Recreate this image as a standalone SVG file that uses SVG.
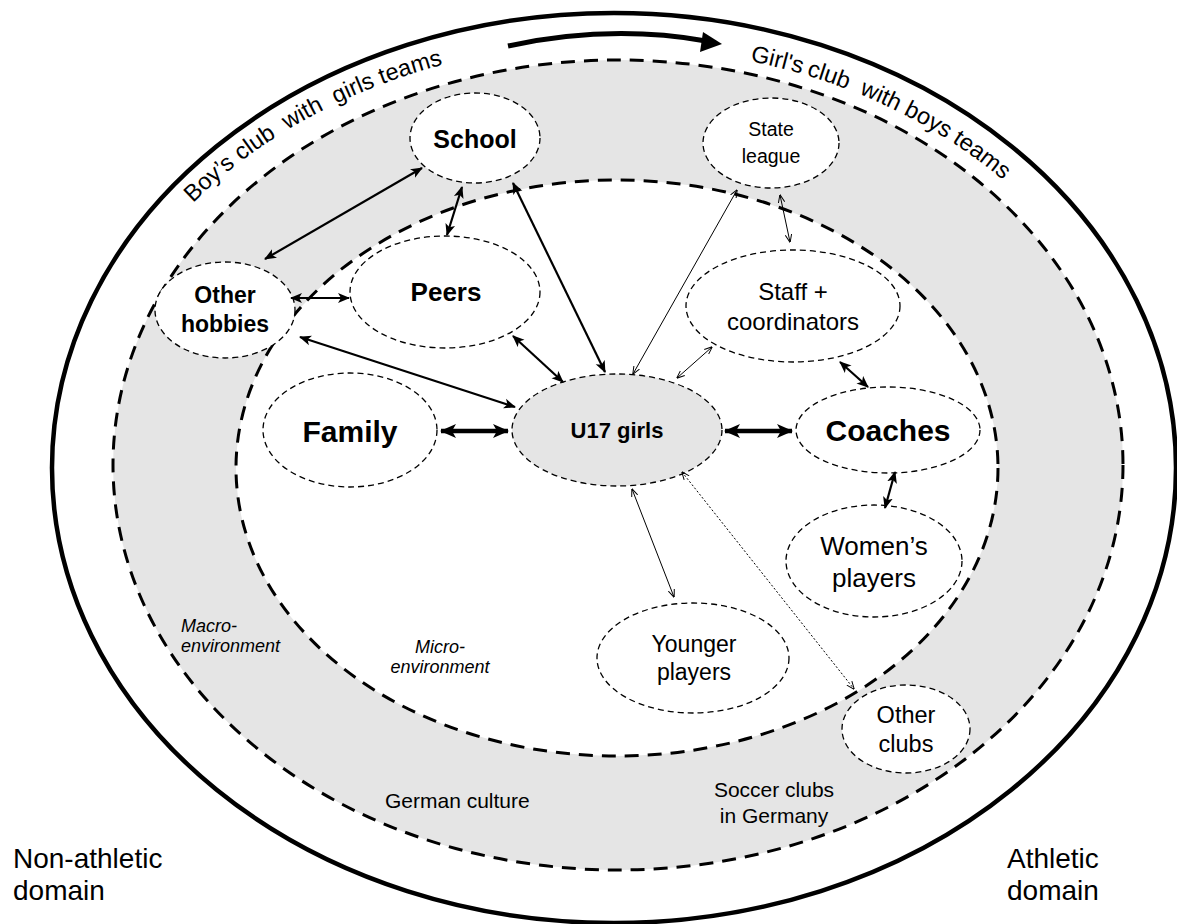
<svg xmlns="http://www.w3.org/2000/svg" width="1177" height="924" viewBox="0 0 1177 924">
  <style>
    text { font-family: "Liberation Sans", Arial, Helvetica, sans-serif; fill: #000; }
    .b { font-weight: bold; }
    .it { font-style: italic; }
    .mid { text-anchor: middle; }
    .arc { font-size: 23.5px; }
    .node { fill: #fff; stroke: #000; stroke-width: 1.3; stroke-dasharray: 6 4; }
    .core { fill: #e5e5e5; stroke: #000; stroke-width: 1.3; stroke-dasharray: 6 4; }
    .ring { stroke: #000; stroke-width: 3; stroke-dasharray: 14 9; }
    .thick { stroke: #000; stroke-width: 4.5; fill: none; marker-start: url(#hBig); marker-end: url(#hBig); }
    .med { stroke: #000; stroke-width: 2.2; fill: none; marker-start: url(#hMed); marker-end: url(#hMed); }
    .thin { stroke: #000; stroke-width: 1; fill: none; marker-start: url(#hSmall); marker-end: url(#hSmall); }
    .dot { stroke: #000; stroke-width: 1; stroke-dasharray: 2 2; fill: none; marker-start: url(#hSmall); marker-end: url(#hSmall); }
  </style>
  <defs>
    <marker id="hBig" markerUnits="userSpaceOnUse" markerWidth="16" markerHeight="16" viewBox="0 0 16 16" refX="15" refY="8" orient="auto-start-reverse">
      <path d="M0 1 L16 8 L0 15 L4 8 Z" fill="#000"/>
    </marker>
    <marker id="hMed" markerUnits="userSpaceOnUse" markerWidth="12" markerHeight="12" viewBox="0 0 12 12" refX="11" refY="6" orient="auto-start-reverse">
      <path d="M0 1 L12 6 L0 11 L3 6 Z" fill="#000"/>
    </marker>
    <marker id="hSmall" markerUnits="userSpaceOnUse" markerWidth="8" markerHeight="8" viewBox="0 0 8 8" refX="7.5" refY="4" orient="auto-start-reverse">
      <path d="M0 0.8 L8 4 L0 7.2" fill="none" stroke="#000" stroke-width="1"/>
    </marker>
    <path id="arcLeft" d="M 193 203 A 540 425 0 0 1 1039 203"/>
    <path id="arcRight" d="M 750 61 A 530 420 0 0 1 1100 295"/>
  </defs>

  <rect width="1177" height="924" fill="#fff"/>

  <!-- environment rings -->
  <g id="rings">
    <ellipse cx="614" cy="468" rx="562" ry="455" fill="#fff" stroke="#000" stroke-width="4.5"/>
    <ellipse class="ring" cx="618" cy="465" rx="505" ry="405" fill="#e5e5e5"/>
    <ellipse class="ring" cx="617" cy="468" rx="381" ry="288" fill="#fff"/>
  </g>

  <!-- direction arrow between the club types, with the curved captions -->
  <g id="club-direction">
    <path d="M 508 46 Q 610 24 706 41" fill="none" stroke="#000" stroke-width="5"/>
    <polygon points="722,44 703,32 700,52" fill="#000"/>
    <text class="arc"><textPath href="#arcLeft" startOffset="0">Boy’s</textPath></text>
    <text class="arc"><textPath href="#arcLeft" startOffset="64">club</textPath></text>
    <text class="arc"><textPath href="#arcLeft" startOffset="120">with</textPath></text>
    <text class="arc"><textPath href="#arcLeft" startOffset="175">girls</textPath></text>
    <text class="arc"><textPath href="#arcLeft" startOffset="225">teams</textPath></text>
    <text class="arc"><textPath href="#arcRight" startOffset="0">Girl's</textPath></text>
    <text class="arc"><textPath href="#arcRight" startOffset="58">club</textPath></text>
    <text class="arc"><textPath href="#arcRight" startOffset="114">with</textPath></text>
    <text class="arc"><textPath href="#arcRight" startOffset="162.5">boys</textPath></text>
    <text class="arc"><textPath href="#arcRight" startOffset="218.5">teams</textPath></text>
  </g>

  <!-- region labels -->
  <g id="labels">
    <text class="it" font-size="18" x="181" y="632">Macro-</text>
    <text class="it" font-size="18" x="181" y="652">environment</text>
    <text class="it mid" font-size="18" x="440" y="653">Micro-</text>
    <text class="it mid" font-size="18" x="440" y="673">environment</text>
    <text font-size="21" x="385" y="808">German culture</text>
    <text class="mid" font-size="21" x="774" y="797">Soccer clubs</text>
    <text class="mid" font-size="21" x="774" y="823">in Germany</text>
    <text font-size="28" x="13" y="868">Non-athletic</text>
    <text font-size="28" x="13" y="900">domain</text>
    <text font-size="28" x="1007" y="868">Athletic</text>
    <text font-size="28" x="1007" y="900">domain</text>
  </g>

  <!-- nodes -->
  <g id="school">
    <ellipse class="node" cx="475" cy="138" rx="65" ry="45"/>
    <text class="b mid" font-size="25" x="475" y="148">School</text>
  </g>
  <g id="state-league">
    <ellipse class="node" cx="771" cy="143" rx="68" ry="45"/>
    <text class="mid" font-size="19.5" x="771" y="136">State</text>
    <text class="mid" font-size="19.5" x="771" y="163">league</text>
  </g>
  <g id="other-hobbies">
    <ellipse class="node" cx="225" cy="310" rx="70" ry="48"/>
    <text class="b mid" font-size="23" x="225" y="303">Other</text>
    <text class="b mid" font-size="23" x="225" y="332">hobbies</text>
  </g>
  <g id="peers">
    <ellipse class="node" cx="445" cy="292" rx="95" ry="56"/>
    <text class="b mid" font-size="26" x="446" y="301">Peers</text>
  </g>
  <g id="staff">
    <ellipse class="node" cx="793" cy="306" rx="107" ry="56"/>
    <text class="mid" font-size="24" x="793" y="300">Staff +</text>
    <text class="mid" font-size="24" x="793" y="330">coordinators</text>
  </g>
  <g id="family">
    <ellipse class="node" cx="350" cy="430" rx="87" ry="57"/>
    <text class="b mid" font-size="30" x="350" y="442">Family</text>
  </g>
  <g id="u17-girls">
    <ellipse class="core" cx="617" cy="430" rx="105" ry="56"/>
    <text class="b mid" font-size="22" x="617" y="438">U17 girls</text>
  </g>
  <g id="coaches">
    <ellipse class="node" cx="888" cy="430" rx="92" ry="43"/>
    <text class="b mid" font-size="30" x="888" y="441">Coaches</text>
  </g>
  <g id="womens-players">
    <ellipse class="node" cx="874" cy="561" rx="88" ry="56"/>
    <text class="mid" font-size="26" x="874" y="555">Women’s</text>
    <text class="mid" font-size="26" x="874" y="587">players</text>
  </g>
  <g id="younger-players">
    <ellipse class="node" cx="693" cy="658" rx="96" ry="55"/>
    <text class="mid" font-size="23" x="694" y="652">Younger</text>
    <text class="mid" font-size="23" x="694" y="680">players</text>
  </g>
  <g id="other-clubs">
    <ellipse class="node" cx="906" cy="729" rx="64" ry="44"/>
    <text class="mid" font-size="23.5" x="906" y="723">Other</text>
    <text class="mid" font-size="23.5" x="906" y="752">clubs</text>
  </g>

  <!-- connectors -->
  <g id="connectors">
    <line class="med" x1="265" y1="259" x2="422" y2="168"/>
    <line class="med" x1="447" y1="235" x2="462" y2="187"/>
    <line class="med" x1="513" y1="183" x2="605" y2="372"/>
    <line class="med" x1="291" y1="298" x2="349" y2="298"/>
    <line class="med" x1="300" y1="337" x2="515" y2="407"/>
    <line class="med" x1="513" y1="336" x2="563" y2="382"/>
    <line class="thin" x1="737" y1="190" x2="633" y2="374"/>
    <line class="thin" x1="780" y1="195" x2="790" y2="242"/>
    <line class="thin" x1="712" y1="347" x2="677" y2="378"/>
    <line class="med" x1="840" y1="362" x2="868" y2="387"/>
    <line class="thick" x1="441" y1="431" x2="508" y2="431"/>
    <line class="thick" x1="725" y1="431" x2="792" y2="431"/>
    <line class="med" x1="895" y1="472" x2="885" y2="508"/>
    <line class="thin" x1="632" y1="489" x2="674" y2="597"/>
    <line class="dot" x1="682" y1="472" x2="854" y2="689"/>
  </g>
</svg>
